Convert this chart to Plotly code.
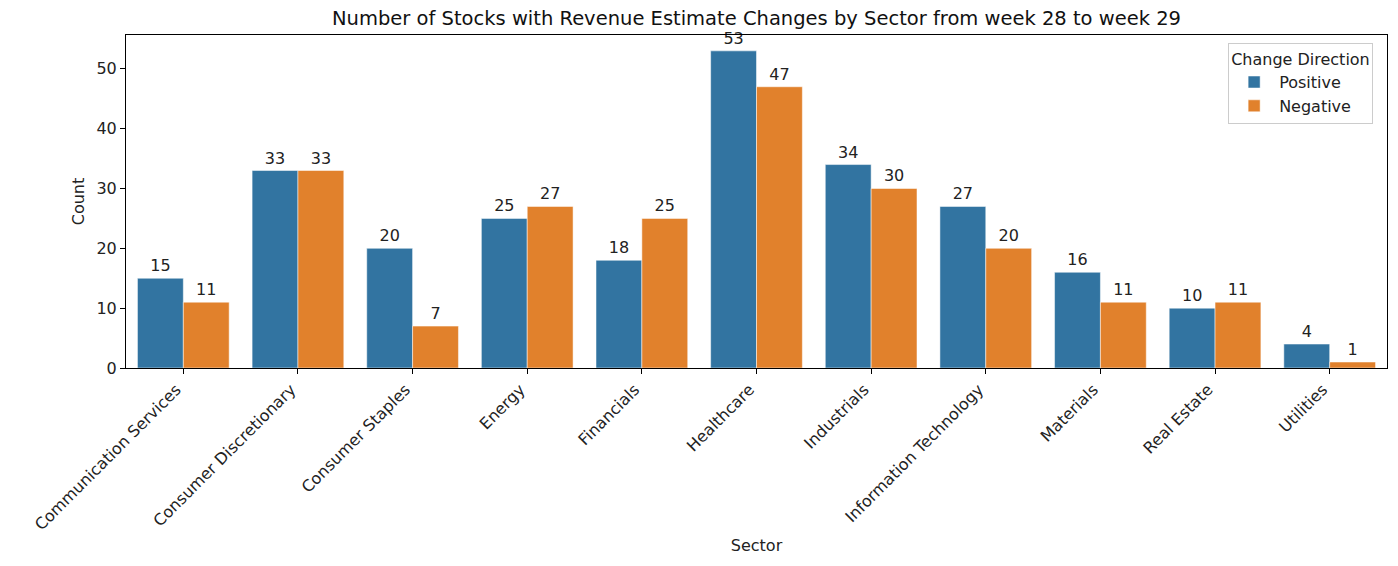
import plotly.graph_objects as go

sectors = ["Communication Services", "Consumer Discretionary", "Consumer Staples", "Energy",
           "Financials", "Healthcare", "Industrials", "Information Technology",
           "Materials", "Real Estate", "Utilities"]
positive = [15, 33, 20, 25, 18, 53, 34, 27, 16, 10, 4]
negative = [11, 33, 7, 27, 25, 47, 30, 20, 11, 11, 1]

FONT = "DejaVu Sans"
FS = 16
fig = go.Figure()
fig.add_trace(go.Bar(x=sectors, y=positive, name="Positive", marker=dict(color="#3274A1", line=dict(color="white", width=0.5)),
                     text=positive, textposition="outside", textfont=dict(size=FS, color="#222"), cliponaxis=False))
fig.add_trace(go.Bar(x=sectors, y=negative, name="Negative", marker=dict(color="#E1812C", line=dict(color="white", width=0.5)),
                     text=negative, textposition="outside", textfont=dict(size=FS, color="#222"), cliponaxis=False))

fig.update_layout(
    width=1398, height=566,
    barmode="group", bargap=0.2, bargroupgap=0,
    paper_bgcolor="white", plot_bgcolor="white",
    font=dict(family=FONT, size=FS, color="#222"),
    margin=dict(l=126, r=11, t=35, b=198, autoexpand=False),
    title=dict(text="Number of Stocks with Revenue Estimate Changes by Sector from week 28 to week 29",
               x=0.5, xanchor="center", xref="paper", y=0.968, yanchor="middle", font=dict(size=19.5, color="#111")),
    legend=dict(title=dict(text="Change Direction", side="top", font=dict(size=FS)),
                x=0.989, xanchor="right", y=0.975, yanchor="top", itemwidth=40,
                bordercolor="#ccc", borderwidth=1, bgcolor="rgba(255,255,255,0.8)", font=dict(size=FS)),
    uniformtext=dict(minsize=FS, mode="show"),
)
fig.update_xaxes(title=dict(text="Sector", font=dict(size=FS), standoff=6), tickangle=-45, range=[-0.5, 10.5],
                 automargin=False, ticklabelshift=-7,
                 showline=True, linecolor="black", linewidth=1, mirror=True,
                 ticks="outside", ticklen=5, tickcolor="black", showgrid=False)
fig.update_yaxes(title=dict(text="Count", font=dict(size=FS), standoff=7), range=[0, 55.65], dtick=10,
                 automargin=False,
                 showline=True, linecolor="black", linewidth=1, mirror=True,
                 ticks="outside", ticklen=5, tickcolor="black", showgrid=False, zeroline=False)

fig.write_html("out.html", config={"displayModeBar": False},
               post_script="document.body.style.margin='0';document.body.style.overflow='hidden';")
